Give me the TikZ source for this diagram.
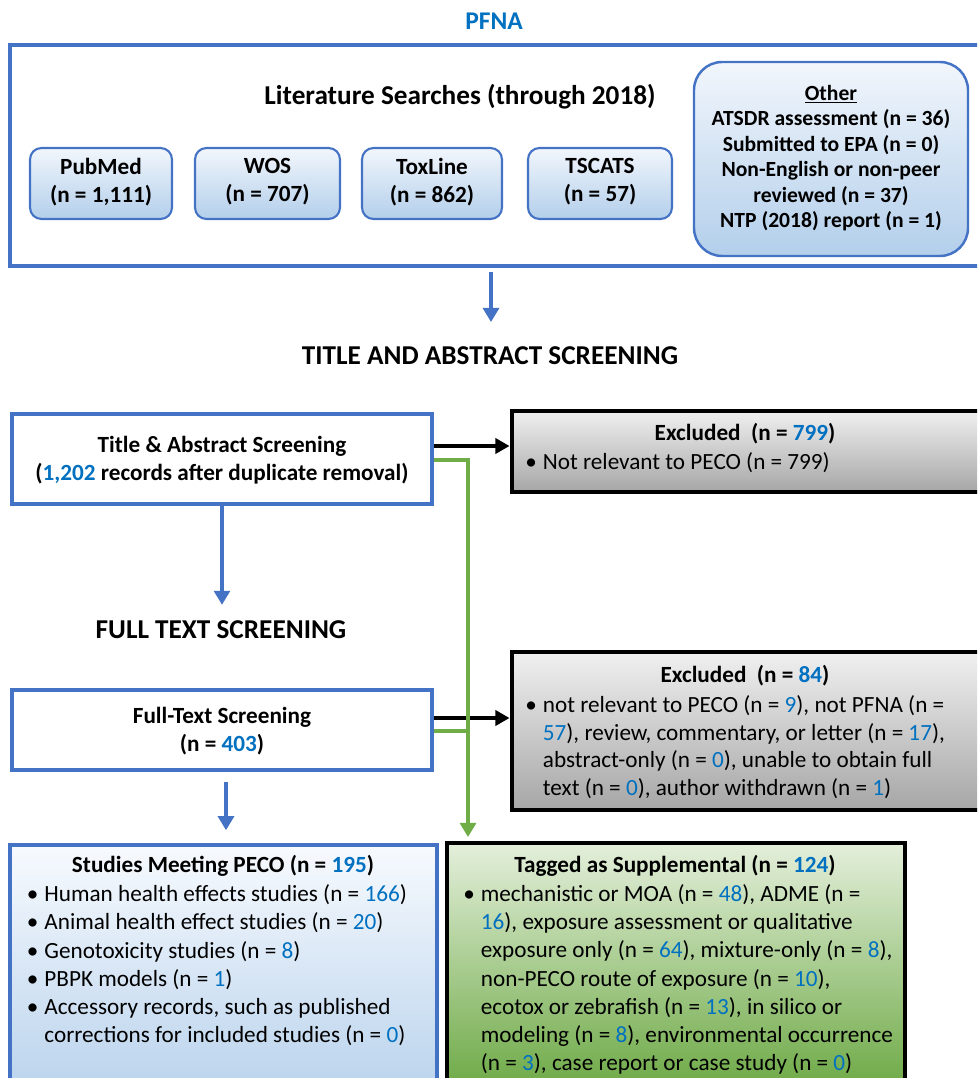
\documentclass[tikz,border=0pt]{standalone}
\usepackage{fontspec}
\setmainfont{Carlito}
\usetikzlibrary{arrows.meta,fit}
\definecolor{bdblue}{HTML}{4472C4}
\definecolor{numblue}{HTML}{0070C0}
\definecolor{grn}{HTML}{70AD47}
\definecolor{srcTop}{HTML}{F2F6FC}
\definecolor{srcBot}{HTML}{B3CFEB}
\definecolor{grayTop}{HTML}{F0F0F0}
\definecolor{grayBot}{HTML}{A6A6A6}
\definecolor{inTop}{HTML}{F7FAFE}
\definecolor{inBot}{HTML}{B8D2EC}
\definecolor{suTop}{HTML}{E4EFDB}
\definecolor{suBot}{HTML}{68A63F}
\newcommand\nb[1]{\textcolor{numblue}{#1}}
\newcommand\bl{\makebox[10pt][l]{•}}
\newcommand\ind{\hspace*{10pt}}
\newcommand\fsn{\fontsize{13.2}{15.9}\selectfont}
\newcommand\fsm{\fontsize{12.3}{14.5}\selectfont}
\newcommand\fsh{\fontsize{15.5}{18}\selectfont}
\newcommand\fsp{\fontsize{14.5}{17}\selectfont}
\begin{document}
\begin{tikzpicture}[x=0.02cm,y=-0.02cm,
  src/.style={draw=bdblue, line width=1.2pt, rounded corners=6.5pt, top color=srcTop, bottom color=srcBot, inner sep=0pt},
  stage/.style={draw=bdblue, line width=2.6pt, fill=white, inner sep=0pt},
  excl/.style={draw=black, line width=2.8pt, top color=grayTop, bottom color=grayBot, inner sep=0pt},
  ctext/.style={font=\fsn\bfseries, align=center, inner sep=0pt},
  head/.style={font=\fsh\bfseries, inner sep=0pt},
  txt/.style={font=\fsn, inner sep=0pt, anchor=base west},
  ttl/.style={font=\fsn\bfseries, inner sep=0pt},
  barrow/.style={draw=bdblue, line width=2.2pt, -{Triangle[width=9pt,length=8pt]}},
  karrow/.style={draw=black, line width=2.4pt, -{Triangle[width=8.5pt,length=8pt]}},
  garrow/.style={draw=grn, line width=2pt, -{Triangle[width=9pt,length=8pt]}},
  gline/.style={draw=grn, line width=2pt}]
\useasboundingbox (0,0) rectangle (977,1078);
\clip (0,0) rectangle (977,1078);

% helper coordinates
\coordinate (x491) at (491,0);
\coordinate (x226) at (226,0);
\coordinate (gx) at (468,0);
\coordinate (ya) at (0,446);
\coordinate (yg1) at (0,460);
\coordinate (yb) at (0,718);
\coordinate (yg2) at (0,731);

% top section
\node[font=\fsp\bfseries, text=numblue, inner sep=0pt] (pfna) at (494,21) {PFNA};
\node[draw=bdblue, line width=2.8pt, inner sep=0pt, fit={(10,45) (1000,266)}] (outer) {};
\node[head] (lit) at (460,97) {Literature Searches (through 2018)};
\node[src, fit={(30,148) (172,219)}] (pubmed) {};
\node[ctext] (pubmedt) at (101,182) {PubMed\\(n = 1,111)};
\node[src, fit={(195,148) (340,219)}] (wos) {};
\node[ctext] (wost) at (267.5,182) {WOS\\(n = 707)};
\node[src, fit={(362,148) (502,219)}] (toxline) {};
\node[ctext] (toxlinet) at (432,182) {ToxLine\\(n = 862)};
\node[src, fit={(528,148) (672,219)}] (tscats) {};
\node[ctext] (tscatst) at (600,182) {TSCATS\\(n = 57)};
\node[src, rounded corners=16pt, line width=1.4pt, fit={(694,62) (968,256)}] (other) {};
\node[ctext, font=\fsm\bfseries] (othert) at (831,158)
  {\underline{Other}\\ATSDR assessment (n = 36)\\Submitted to EPA (n = 0)\\Non-English or non-peer\\reviewed (n = 37)\\NTP (2018) report (n = 1)};

% title and abstract
\node[head] (tas) at (490,356) {TITLE AND ABSTRACT SCREENING};
\node[stage, fit={(12,414) (432,504)}] (ta) {};
\node[ctext] (tat) at (222,460) {Title \& Abstract Screening\\(\nb{1,202} records after duplicate removal)};
\node[excl, fit={(512,411) (1000,492)}] (ex1) {};
\node[ttl] (ex1t) at (745,434) {Excluded\ \ (n = \nb{799})};
\node[txt] (ex1b) at (525,469.5) {\bl Not relevant to PECO (n = 799)};

% full text
\node[head] (fts) at (221,630) {FULL TEXT SCREENING};
\node[stage, fit={(12,690) (432,770)}] (ft) {};
\node[ctext] (ftt) at (222,731.5) {Full-Text Screening\\(n = \nb{403})};
\node[excl, fit={(512,652) (1000,810)}] (ex2) {};
\node[ttl] (ex2t) at (745,676) {Excluded\ \ (n = \nb{84})};
\node[txt, font=\fontsize{13.2}{15.7}\selectfont] (ex2b) at (525,712.5)
  {\begin{tabular}[t]{@{}l@{}}
   \bl not relevant to PECO (n = \nb{9}), not PFNA (n =\\
   \ind\nb{57}), review, commentary, or letter (n = \nb{17}),\\
   \ind abstract-only (n = \nb{0}), unable to obtain full\\
   \ind text (n = \nb{0}), author withdrawn (n = \nb{1})
   \end{tabular}};

% results
\node[draw=bdblue, line width=2.8pt, top color=inTop, bottom color=inBot, inner sep=0pt, fit={(10,845) (437,1100)}] (inc) {};
\node[ttl] (inct) at (223,866) {Studies Meeting PECO (n = \nb{195})};
\node[txt, font=\fontsize{13.2}{16.1}\selectfont] (incb) at (26.5,901.5)
  {\begin{tabular}[t]{@{}l@{}}
   \bl Human health effects studies (n = \nb{166})\\
   \bl Animal health effect studies (n = \nb{20})\\
   \bl Genotoxicity studies (n = \nb{8})\\
   \bl PBPK models (n = \nb{1})\\
   \bl Accessory records, such as published\\
   \ind corrections for included studies (n = \nb{0})
   \end{tabular}};
\node[draw=black, line width=2.8pt, top color=suTop, bottom color=suBot, inner sep=0pt, fit={(447,843) (905,1100)}] (sup) {};
\node[ttl] (supt) at (675,866) {Tagged as Supplemental (n = \nb{124})};
\node[txt, font=\fontsize{13.2}{16.05}\selectfont] (supb) at (463,901.5)
  {\begin{tabular}[t]{@{}l@{}}
   \bl mechanistic or MOA (n = \nb{48}), ADME (n =\\
   \ind\nb{16}), exposure assessment or qualitative\\
   \ind exposure only (n = \nb{64}), mixture-only (n = \nb{8}),\\
   \ind non-PECO route of exposure (n = \nb{10}),\\
   \ind ecotox or zebrafish (n = \nb{13}), in silico or\\
   \ind modeling (n = \nb{8}), environmental occurrence\\
   \ind (n = \nb{3}), case report or case study (n = \nb{0})
   \end{tabular}};

% connectors
\draw[barrow, shorten <=2pt, shorten >=14pt] (outer.south -| x491) -- (tas.north -| x491);
\draw[barrow, shorten >=9pt] (ta.south) -- (fts.north -| ta.south);
\draw[barrow, shorten <=5.5pt, shorten >=7pt] (ft.south -| x226) -- (inc.north -| x226);
\draw[karrow] (ta.east |- ya) -- (ex1.west |- ya);
\draw[karrow] (ft.east |- yb) -- (ex2.west |- yb);
\draw[garrow, shorten >=2pt] (ta.east |- yg1) -| (sup.north -| gx);
\draw[gline] (ft.east |- yg2) -- (gx |- yg2);
\end{tikzpicture}
\end{document}
